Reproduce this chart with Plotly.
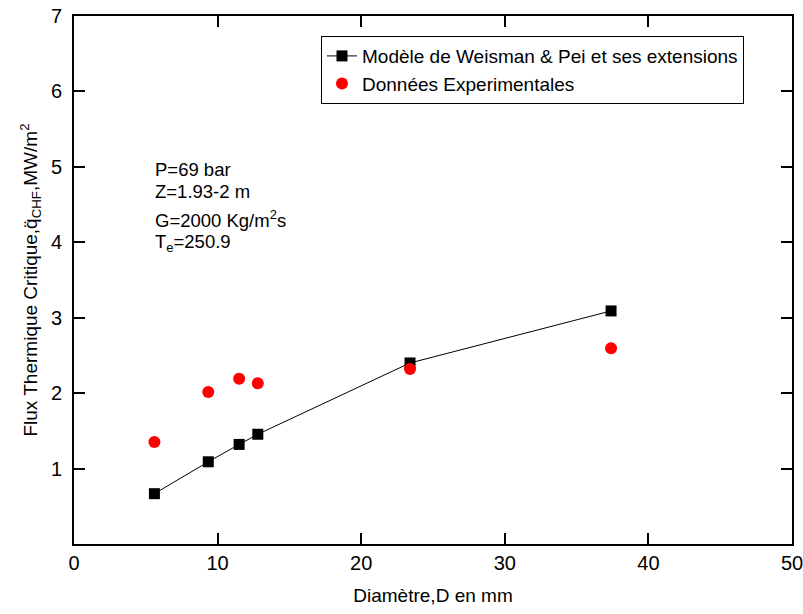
import plotly.graph_objects as go

# Data
diam_model = [5.6, 9.35, 11.5, 12.8, 23.4, 37.4]
chf_model = [0.667, 1.09, 1.32, 1.455, 2.40, 3.09]
diam_exp = [5.6, 9.35, 11.5, 12.8, 23.4, 37.4]
chf_exp = [1.352, 2.015, 2.19, 2.13, 2.32, 2.595]

name_model = "Modèle de Weisman & Pei et ses extensions"
name_exp = "Données Experimentales"

x_ticks = [0, 10, 20, 30, 40, 50]
y_ticks = [1, 2, 3, 4, 5, 6, 7]

info_lines = ["P=69 bar", "Z=1.93-2 m", "G=2000 Kg/m<sup>2</sup>s", "T<sub>e</sub>=250.9"]
info_y = [0.710, 0.667, 0.616, 0.570]

FONT = "Arial, Liberation Sans, sans-serif"

fig = go.Figure()
fig.add_trace(go.Scatter(
    x=diam_model, y=chf_model, mode="lines+markers", name=name_model,
    line=dict(color="black", width=1),
    marker=dict(symbol="square", size=11, color="black"),
))
fig.add_trace(go.Scatter(
    x=diam_exp, y=chf_exp, mode="markers", name=name_exp,
    marker=dict(symbol="circle", size=12, color="#ff0000"),
))

for txt, yy in zip(info_lines, info_y):
    fig.add_annotation(
        x=0.110, y=yy, xref="paper", yref="paper", text=txt, showarrow=False,
        xanchor="left", yanchor="middle", font=dict(size=18.5, color="black", family=FONT),
    )

axis_common = dict(
    showline=True, linecolor="black", linewidth=2, mirror="ticks",
    ticks="inside", ticklen=11, tickwidth=2, tickcolor="black",
    showgrid=False, zeroline=False, automargin=False,
    ticklabeloverflow="allow",
    tickfont=dict(size=20, color="black", family=FONT),
)

fig.update_xaxes(
    range=[0, 50], tickvals=x_ticks, ticktext=[str(v) for v in x_ticks],
    title=dict(text="Diamètre,D en mm", font=dict(size=19, color="black", family=FONT), standoff=16),
    **axis_common,
)
fig.update_yaxes(
    range=[0, 7], tickvals=y_ticks, ticktext=[str(v) for v in y_ticks],
    title=dict(text="Flux Thermique Critique,q̈<sub>CHF</sub>,MW/m<sup>2</sup>",
               font=dict(size=19, color="black", family=FONT), standoff=8),
    ticklabelstandoff=6,
    **axis_common,
)

fig.update_layout(
    width=803, height=614,
    margin=dict(l=74, r=11, t=16, b=70),
    plot_bgcolor="white", paper_bgcolor="white",
    font=dict(family=FONT, color="black"),
    legend=dict(
        x=0.344, y=0.962, xanchor="left", yanchor="top",
        bgcolor="white", bordercolor="black", borderwidth=1,
        font=dict(size=19, color="black", family=FONT),
        tracegroupgap=0, itemwidth=30,
    ),
    showlegend=True,
)

fig.write_html("out.html")
